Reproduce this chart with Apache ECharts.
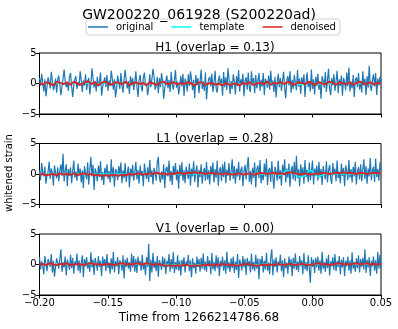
<!DOCTYPE html>
<html>
<head>
<meta charset="utf-8">
<script src="https://cdn.jsdelivr.net/npm/echarts@6/dist/echarts.min.js"></script>
<style>
  html, body { margin: 0; padding: 0; background: #fff; }
  #chart { width: 398px; height: 329px; }
</style>
</head>
<body>
<div id="chart"></div>
<script>
// time window (s) relative to 1266214786.68
const tStart = -0.2;
const tEnd = 0.05;

// whitened strain, original
const h1Original = [
  0.9,-0.4,1.6,0.2,-1.3,0.7,-2.1,-0.6,1.0,0.3,-0.8,1.9,0.5,-1.1,-0.4,0.8,-1.5,0.6,1.3,-0.2,
  -1.9,-0.5,0.8,2.3,0.4,-0.6,0.1,-1.2,1.1,1.7,-0.5,-2.2,-0.3,0.7,1.2,-0.9,0.2,-0.4,2.0,0.6,
  -1.4,0.5,-0.3,1.5,-1.1,0.2,0.9,-1.8,-0.2,2.5,0.9,-0.7,0.4,-1.3,1.1,-0.5,0.3,1.8,-2.0,-0.6,
  0.3,1.0,-0.6,1.4,-1.2,0.5,-0.4,2.1,0.8,-1.0,0.7,-2.3,-0.9,1.3,0.2,-0.9,1.7,-0.2,-1.5,0.8,
  2.2,0.6,-0.8,0.4,-1.7,1.2,-0.3,0.9,-1.1,0.1,2.0,-0.4,-2.2,0.5,1.4,-0.5,-1.3,1.0,1.8,-0.3,
  0.1,-1.9,-0.7,1.5,-0.6,0.7,2.4,1.1,-1.0,-0.4,1.1,-1.6,0.9,-0.6,1.7,0.3,-2.5,-0.8,0.4,1.3,
  -0.8,0.6,-1.4,1.9,-0.1,-1.0,0.4,2.2,-0.7,0.3,-1.8,-0.5,1.2,-0.5,1.6,-2.1,0.8,0.2,-1.3,1.5,
  -0.4,2.0,0.7,-1.1,0.6,-2.4,1.4,-0.2,0.9,-1.6,0.3,2.3,-0.9,0.3,-1.2,1.8,-2.6,-0.3,0.7,1.1,
  -0.5,1.6,-1.4,0.2,2.1,-0.8,-1.5,0.4,1.3,-0.3,0.8,-2.0,1.9,-0.6,1.0,-1.1,2.5,0.6,-1.7,0.4,
  -0.9,1.5,0.3,-1.8,1.2,-0.4,2.2,-1.3,0.7,-0.2,1.6,-2.1,0.5,1.0,-1.0,1.8,-0.7,-1.4,2.0,-0.3,
  0.9,-1.6,1.4,-0.8,0.4,1.7,-1.2,0.6,-0.5,1.7,-1.9,0.8,0.2,-0.7,1.3,-1.0,2.1,-0.3,0.5,-1.4,
  1.1,-2.3,0.2,1.6,-0.6,0.9,-1.2,0.4,1.9,-0.8,-2.4,0.5,1.2,-0.3,2.0,-1.5,0.6,-0.9,1.4,0.1,
  -1.1,2.2,-0.5,0.8,-1.7,1.0,-0.2,1.5,-2.2,0.3,1.8,-0.6,0.4,-1.3,2.3,-0.9,0.7,-1.8,1.1,-0.4,
  1.6,-1.0,0.3,-2.5,1.2,0.5,-0.7,1.9,-1.4,0.6,2.4,-0.8,-1.9,0.9,-0.3,1.5,-1.2,0.4,2.1,-1.6,
  0.7,-0.4,1.3,-2.0,0.9,0.2,-1.1,1.8,-0.5,2.6,-1.3,0.3,-0.8,1.4,-2.2,0.6,1.0,-0.6,1.7,-1.0,
  0.4,-1.5,2.0,-0.3,0.8,-1.9,1.2,-0.7,2.9,-0.4,-1.2,0.6,1.5,-0.5,1.7,-1.9,0.8,-0.3,1.1,0.2
];
const l1Original = [
  0.6,-1.0,1.8,0.3,-0.4,1.2,-1.6,-0.2,0.3,2.0,-0.8,0.9,0.2,-1.9,1.4,0.2,-0.7,1.1,-1.2,0.5,
  1.6,-0.3,3.3,-1.2,0.5,1.6,-2.0,0.8,-0.3,1.1,-1.5,0.4,2.2,-0.6,0.4,-1.1,1.7,-0.2,0.9,-1.4,
  0.6,-2.3,1.3,0.1,-0.9,1.9,-1.7,0.7,2.8,-0.4,1.5,-2.6,0.9,0.2,-1.2,1.4,-0.5,2.1,-1.0,0.3,
  -1.8,1.0,-0.3,1.6,-0.8,0.5,-1.4,2.4,-0.6,1.1,-2.1,0.8,0.4,-1.0,1.3,-0.2,1.9,-1.5,0.6,-0.7,
  1.8,-1.3,0.2,1.2,-2.2,0.9,-0.4,1.5,-1.1,0.3,2.0,-0.9,0.7,-1.6,1.4,-0.3,0.5,-2.0,1.7,0.1,
  -0.8,1.1,-1.3,2.3,-0.5,0.6,-1.7,1.0,0.3,-1.1,1.9,2.8,-0.6,-1.4,0.4,-0.9,1.6,-2.3,0.8,1.2,
  -0.4,2.2,-1.2,0.5,-1.8,1.3,-0.1,1.8,-1.0,0.7,-2.4,1.5,-0.3,1.9,-1.1,0.6,-1.5,1.2,0.2,-0.8,
  1.7,-1.9,0.9,-0.4,2.1,-1.3,0.4,1.4,-2.2,0.7,-0.5,1.6,-1.6,0.3,1.0,-1.1,2.0,-0.9,0.6,-1.7,
  1.3,-0.2,1.9,-1.4,0.8,-0.6,2.2,-1.9,0.5,1.1,-1.2,1.6,-0.5,2.0,-1.5,0.7,-0.3,1.8,-1.1,0.4,
  2.4,-0.8,1.3,-1.6,0.9,-0.4,2.0,-1.0,0.6,1.2,-2.0,0.4,1.5,-0.9,1.1,2.8,-1.3,0.5,-1.7,1.0,
  -0.6,1.9,-2.2,0.8,1.4,-0.7,2.3,-1.5,0.2,-1.0,1.7,-0.4,2.5,-1.8,0.6,1.0,-1.3,2.1,-0.5,-2.4,
  1.2,0.4,-1.1,2.2,-0.8,0.6,-1.9,1.5,-0.2,2.4,-1.4,0.9,-0.6,1.7,-2.1,0.5,1.3,-0.9,2.0,-1.2,
  3.0,-0.7,0.8,-2.0,1.6,-0.4,1.1,-1.6,2.3,-0.5,0.7,-1.3,1.9,-1.0,0.4,2.2,-1.7,0.9,-0.3,1.4,
  -1.1,2.0,-0.6,0.8,-1.8,1.3,0.1,-0.9,2.1,-1.4,0.6,1.5,-0.8,-1.6,1.8,-0.2,0.9,-1.2,2.2,-0.7,
  0.4,-1.5,1.7,-0.3,1.0,-2.0,1.4,0.6,-1.0,2.3,-0.6,0.8,-1.4,1.2,-0.4,2.0,-1.7,0.5,1.1,-0.9,
  1.6,-1.2,0.7,2.4,-0.8,1.3,-1.6,0.9,-0.4,2.6,-1.0,0.6,1.2,-1.3,2.5,-0.5,0.8,-1.1,1.9,0.6
];
const v1Original = [
  1.2,-0.8,0.5,-0.2,-1.6,1.4,0.2,-1.1,0.9,0.3,-0.4,1.7,-1.3,0.6,-2.0,-0.4,1.0,0.3,-0.7,0.9,
  2.5,-1.2,0.4,-0.5,1.3,-1.8,0.8,0.1,-0.9,1.6,-0.6,1.1,-1.5,0.5,-0.2,1.8,-1.0,0.7,-1.4,0.3,
  1.5,-2.1,0.9,-0.3,1.2,-0.7,0.4,-1.2,2.0,-0.5,0.8,-1.7,1.1,0.2,-1.0,1.4,-0.4,0.6,-1.9,1.3,
  -0.2,0.9,-1.1,1.7,-0.6,0.3,-1.5,1.0,-0.8,2.1,-1.3,0.5,-0.3,1.2,-1.6,0.7,0.2,-1.0,1.5,-2.3,
  0.8,-0.4,1.1,-0.7,0.4,-1.2,1.8,-0.5,1.4,-1.2,0.9,-1.4,1.3,-0.2,0.6,-1.0,1.6,-0.8,0.3,-1.7,
  1.2,-0.4,3.4,-2.7,0.8,-1.3,1.9,-0.6,0.5,-1.1,1.4,-2.0,0.7,0.1,-0.9,1.3,-0.5,1.0,-1.6,0.6,
  -0.3,1.7,-1.2,0.9,-0.7,2.0,-1.4,0.4,-0.8,1.5,-1.0,0.6,-1.8,0.8,-0.4,1.2,-1.3,0.5,-0.2,1.6,
  -1.1,0.7,-2.1,1.0,-0.6,0.3,-1.5,1.3,-0.4,0.9,-1.2,1.1,-0.7,1.8,-0.9,0.5,-1.2,1.4,-0.3,0.7,
  -1.6,1.9,-0.8,0.4,-1.1,1.5,-0.6,1.2,-1.9,0.6,-0.3,1.3,-1.0,0.7,-1.5,2.1,-0.7,0.4,-1.2,1.0,
  -0.6,1.3,-1.4,0.5,-0.9,1.7,-2.2,0.8,0.2,-1.0,1.4,-0.5,0.9,-1.7,1.1,-0.3,0.6,-1.3,1.8,-0.8,
  0.4,-1.1,1.6,-0.7,1.0,-2.4,0.9,-0.2,1.4,-1.3,0.6,-0.8,1.9,-1.0,0.3,-1.6,1.2,2.5,-1.8,0.8,
  -0.4,1.2,-1.3,0.5,-0.2,1.6,-1.1,0.7,-2.1,1.0,-0.6,0.3,-1.5,1.3,-0.4,0.9,-1.9,1.1,-0.7,1.8,
  -0.9,0.5,-1.2,1.4,-0.3,0.7,-1.6,1.9,-0.8,0.4,-1.1,1.5,-0.6,-3.0,1.2,-0.4,0.8,-1.4,1.1,-0.5,
  1.3,-1.0,0.7,-1.5,2.1,-0.7,0.4,-1.2,1.0,-0.6,1.6,-1.8,0.5,-0.3,1.2,-0.9,1.7,-1.1,0.6,-0.4,
  1.4,-1.6,0.8,-0.5,1.2,-1.9,0.6,-0.3,1.3,-1.0,0.7,-1.5,2.0,-0.7,0.4,-1.2,1.0,-0.6,1.5,-1.3,
  0.9,-0.4,1.1,-0.8,2.5,-1.4,0.8,-0.5,1.2,-1.9,0.6,-0.3,1.3,-1.0,0.7,-1.5,2.1,-0.7,1.6,-0.6
];

// denoised output
const h1Denoised = [
  0.1,-0.2,0.2,0.0,-0.3,0.3,0.1,-0.1,0.2,-0.2,
  0.3,0.0,-0.2,0.1,0.4,-0.1,0.2,-0.3,0.1,0.3,
  0.0,-0.2,0.2,0.1,-0.1,0.3,-0.2,0.0,0.2,-0.1,
  0.1,-0.3,0.2,0.0,-0.2,0.1,0.3,-0.1,0.0,0.2,
  -0.2,0.1,-0.1,0.2,0.0,-0.3,0.1,0.2,-0.2,0.0,
  0.1,-0.2,0.0,-0.3,0.1,-0.2,-0.1,0.0,-0.3,0.1,
  -0.1,0.2,-0.2,0.0,0.1,-0.1,0.3,-0.2,0.1,0.0,
  0.2,-0.1,0.3,0.0,-0.2,0.2,0.1,-0.1,0.3,0.0,
  -0.2,0.2,0.0,-0.1,0.3,0.1,-0.2,0.2,0.0,-0.1,
  0.2,-0.2,0.1,0.3,-0.1,0.0,0.2,-0.2,0.1,0.0
];
const l1Denoised = [
  -0.1,0.0,-0.2,-0.1,0.0,-0.2,0.1,-0.1,0.0,-0.1,
  0.1,-0.2,0.0,0.1,-0.1,0.0,-0.2,-0.1,-0.3,-0.2,
  -0.3,-0.1,-0.2,-0.3,-0.1,-0.2,0.0,-0.1,0.0,0.1,
  -0.1,0.0,0.1,0.0,0.2,0.0,0.1,-0.1,0.1,0.0,
  0.2,0.1,0.0,0.2,0.1,0.3,0.1,0.2,0.0,0.1,
  0.2,0.0,0.1,-0.1,0.1,0.0,-0.1,0.0,0.1,-0.1,
  0.0,0.1,-0.1,0.0,0.2,0.1,0.0,0.1,0.2,0.0,
  0.1,0.0,0.2,0.3,0.1,0.0,-0.1,0.1,0.0,-0.1,
  0.1,0.0,0.2,0.1,0.0,0.1,0.2,0.1,0.3,0.1,
  0.2,0.1,0.0,0.2,0.1,0.0,0.1,0.2,0.1,0.1
];
const v1Denoised = [
  0.0,0.1,-0.1,0.2,0.0,-0.1,0.1,0.0,0.2,-0.1,
  0.0,0.1,0.0,-0.1,0.1,0.2,0.0,0.1,-0.1,0.0,
  0.1,0.0,-0.1,0.1,0.2,0.0,0.1,0.0,0.2,0.1,
  0.0,0.2,0.1,-0.1,0.1,0.0,-0.1,-0.2,-0.1,-0.2,
  -0.1,-0.2,0.0,-0.1,-0.2,-0.1,-0.2,-0.1,-0.1,0.0,
  -0.1,0.0,-0.1,0.1,0.0,-0.1,0.0,-0.2,-0.1,0.0,
  0.1,0.0,-0.1,-0.2,-0.1,0.0,-0.1,0.0,-0.1,0.1,
  0.0,-0.1,0.0,0.1,-0.1,0.0,0.1,0.0,-0.1,0.0,
  0.1,0.2,0.0,0.1,-0.1,0.0,0.1,0.2,0.0,0.1,
  0.0,0.1,0.2,0.0,0.1,0.2,0.0,0.1,0.0,0.1
];

// template waveform (flat except near merger)
const templateTimes = [-0.2, -0.05, -0.04, -0.034, -0.029, -0.024, -0.019, -0.014, -0.009, -0.005, -0.002, 0.001, 0.004, 0.007, 0.011, 0.02, 0.05];
const h1Template = [0, 0, 0.05, -0.05, 0.1, -0.1, 0.15, -0.1, -0.2, 0.1, 0.2, -0.1, -0.15, 0.05, 0, 0, 0];
const l1Template = [0, 0, 0.05, -0.1, 0.15, -0.2, 0.55, 0.1, -0.5, -0.1, 0.6, 0.2, -0.4, -0.2, 0.05, 0, 0];
const v1Template = [0, 0, 0, 0.05, -0.05, 0.05, -0.1, 0.1, -0.1, 0.1, -0.05, 0.05, 0, 0, 0, 0, 0];

const detectors = ['H1', 'L1', 'V1'];
const overlaps = ['0.13', '0.28', '0.00'];
const originals = [h1Original, l1Original, v1Original];
const denoised = [h1Denoised, l1Denoised, v1Denoised];
const templates = [h1Template, l1Template, v1Template];

const panelTops = [53, 143.5, 234];
const panelH = 61;
const font = 'DejaVu Sans';

function withTime(arr) {
  const step = (tEnd - tStart) / (arr.length - 1);
  return arr.map((v, i) => [tStart + i * step, v]);
}

function minusFmt(v, digits) {
  if (Math.abs(v) < 1e-9) return (0).toFixed(digits);
  return (v < 0 ? '\u2212' : '') + Math.abs(v).toFixed(digits);
}

const grids = [], xAxes = [], yAxes = [], series = [], titles = [];

titles.push({
  text: 'GW200220_061928 (S200220ad)',
  left: 'center', top: 3,
  textStyle: { fontFamily: font, fontSize: 14, fontWeight: 'normal', color: '#000' }
});

for (let k = 0; k < 3; k++) {
  grids.push({
    left: 39.5, right: 17, top: panelTops[k], height: panelH,
    show: true, borderColor: '#000', borderWidth: 1, backgroundColor: 'transparent'
  });
  xAxes.push({
    gridIndex: k, type: 'value', min: tStart, max: tEnd, interval: 0.05,
    axisLine: { onZero: false, lineStyle: { color: '#000', width: 1 } },
    axisTick: { show: true, length: 3.5, lineStyle: { color: '#000' } },
    axisLabel: {
      show: k === 2, fontFamily: font, fontSize: 10, color: '#000', margin: 3,
      formatter: v => minusFmt(v, 2)
    },
    splitLine: { show: false }
  });
  yAxes.push({
    gridIndex: k, type: 'value', min: -5, max: 5, interval: 5,
    axisLine: { show: true, onZero: false, lineStyle: { color: '#000', width: 1 } },
    axisTick: { show: true, length: 3.5, lineStyle: { color: '#000' } },
    axisLabel: {
      fontFamily: font, fontSize: 10, color: '#000', margin: 3,
      formatter: v => minusFmt(v, 0)
    },
    splitLine: { show: false }
  });
  titles.push({
    text: detectors[k] + ' (overlap = ' + overlaps[k] + ')',
    left: 210, textAlign: 'center', top: panelTops[k] - 16,
    textStyle: { fontFamily: font, fontSize: 12, fontWeight: 'normal', color: '#000' }
  });
  series.push({
    name: 'original', type: 'line', xAxisIndex: k, yAxisIndex: k,
    data: withTime(originals[k]), symbol: 'none',
    lineStyle: { color: '#1f77b4', width: 1.2 }, itemStyle: { color: '#1f77b4' }
  });
  series.push({
    name: 'template', type: 'line', xAxisIndex: k, yAxisIndex: k,
    data: templateTimes.map((t, i) => [t, templates[k][i]]), symbol: 'none', smooth: true,
    lineStyle: { color: '#00ffff', width: 1.2 }, itemStyle: { color: '#00ffff' }
  });
  series.push({
    name: 'denoised', type: 'line', xAxisIndex: k, yAxisIndex: k,
    data: withTime(denoised[k]), symbol: 'none',
    lineStyle: { color: '#d62728', width: 2 }, itemStyle: { color: '#d62728' }
  });
}

const myChart = echarts.init(document.getElementById('chart'), null, { renderer: 'canvas' });

const option = {
  animation: false,
  title: titles,
  legend: {
    data: ['original', 'template', 'denoised'],
    left: 86, top: 19,
    icon: 'rect', itemWidth: 20, itemHeight: 1.5, itemGap: 18,
    padding: [3, 4, 3, 2],
    borderColor: '#d0d0d0', borderWidth: 1, borderRadius: 3,
    textStyle: { fontFamily: font, fontSize: 10, color: '#000', padding: [0, 0, 0, 3] }
  },
  grid: grids,
  xAxis: xAxes,
  yAxis: yAxes,
  series: series,
  graphic: [
    {
      type: 'text', left: 'center', top: 312,
      style: { text: 'Time from 1266214786.68', font: '12px "DejaVu Sans"', fill: '#000' }
    },
    {
      type: 'text', x: 4, y: 173, rotation: Math.PI / 2,
      style: { text: 'whitened strain', font: '10px "DejaVu Sans"', fill: '#000', align: 'center', verticalAlign: 'top' }
    }
  ]
};

myChart.setOption(option);
window.addEventListener('resize', myChart.resize);
</script>
</body>
</html>
